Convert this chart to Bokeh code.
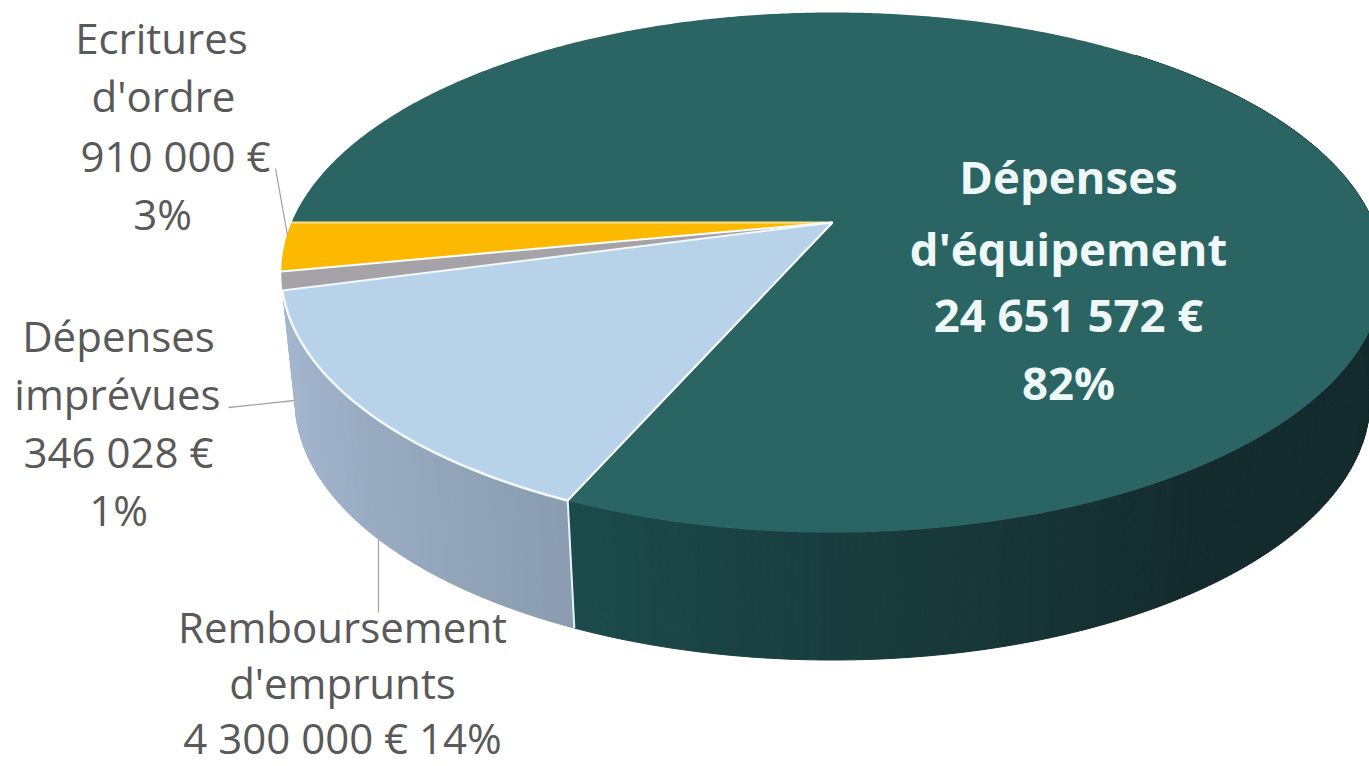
import numpy as np
from bokeh.plotting import figure
from bokeh.models import Range1d, ColumnDataSource
from bokeh.core.properties import value
from bokeh.embed import file_html
from bokeh.resources import INLINE

# ---- data (order: counter-clockwise on screen, from 9 o'clock)
categories = ["Ecritures d'ordre", "Dépenses imprévues", "Remboursement d'emprunts", "Dépenses d'équipement"]
amounts = [910000, 346028, 4300000, 24651572]
label_lines = [
    ["Ecritures", "d'ordre", "910 000 €", "3%"],
    ["Dépenses", "imprévues", "346 028 €", "1%"],
    ["Remboursement", "d'emprunts", "4 300 000 € 14%"],
    ["Dépenses", "d'équipement", "24 651 572 €", "82%"],
]
top_colors = ["#fdb900", "#a5a3a8", "#b7d2e9", "#2a6463"]
edge_colors = ["#f7e58e", "#ffffff", "#f2f8fc", "#ffffff"]

# ---- layout of the perspective projection (screen pixels)
CX, CY, RX, RY, K = 832.0, 222.0, 541.0, 250.4, 0.1923
DEPTH, SHRINK = 127.5, 0.975


def top_rim(t):
    u, v = -np.cos(t), np.sin(t)
    w = 1 - K * v
    return CX + RX * u / w, CY + RY * v / w


def bottom_rim(t):
    x, y = top_rim(t)
    return CX + (x - CX) * SHRINK, y + DEPTH


fractions = np.array(amounts, dtype=float) / sum(amounts)
edges = np.concatenate([[0.0], np.cumsum(fractions)]) * 2 * np.pi

p = figure(width=1369, height=766, output_backend="svg", toolbar_location=None,
           x_range=Range1d(0, 1369), y_range=Range1d(766, 0),
           min_border=0, outline_line_color=None, background_fill_color="white")
p.axis.visible = False
p.grid.visible = False


def hex2rgb(h):
    return np.array([int(h[i:i + 2], 16) for i in (1, 3, 5)], dtype=float)


def shade(t, stops_t, stops_c):
    rgb = [np.interp(t, stops_t, [hex2rgb(c)[i] for c in stops_c]) for i in range(3)]
    return "#%02x%02x%02x" % tuple(int(round(c)) for c in rgb)


def wall(t0, t1, stops_t, stops_c):
    ts = np.arange(t0, t1 + 0.005, 0.012)
    if ts[-1] < t1:
        ts = np.append(ts, t1)
    xs, ys, cs = [], [], []
    for a, b in zip(ts[:-1], ts[1:]):
        ax, ay = top_rim(a)
        bx, by = top_rim(b)
        cx, cy = bottom_rim(b)
        dx, dy = bottom_rim(a)
        xs.append([ax, bx, cx, dx])
        ys.append([ay, by, cy, dy])
        cs.append(shade((a + b) / 2, stops_t, stops_c))
    p.patches(xs, ys, fill_color=cs, line_color=cs, line_width=1)


# side walls
d = np.deg2rad
wall(edges[3], d(230), [edges[3], d(90), d(125), d(230)],
     ["#1c4b4b", "#193d3e", "#142b2d", "#142a2c"])
wall(edges[2], edges[3], [edges[2], d(35), edges[3]],
     ["#a5b8cf", "#9bafc6", "#8b9db0"])

# separator on the wall between blue and teal
sx0, sy0 = top_rim(edges[3])
sx1, sy1 = bottom_rim(edges[3])
p.line([sx0, sx1], [sy0, sy1], line_color="#e8f2f5", line_width=2)

# top faces
for i in [3, 2, 1, 0]:
    ts = np.linspace(edges[i], edges[i + 1], max(int((edges[i + 1] - edges[i]) * 120), 8))
    x, y = top_rim(ts)
    p.patch(np.r_[CX, x], np.r_[CY, y], fill_color=top_colors[i], line_color=None)

# white rim of the blue slice, and slice separators
ts = np.linspace(edges[2], edges[3], 100)
x, y = top_rim(ts)
p.line(x, y, line_color="#f2f8fc", line_width=2.5)
for i, t in enumerate(edges[:4]):
    ex, ey = top_rim(t)
    p.line([CX, ex], [CY, ey], line_color=edge_colors[i], line_width=2)

# leader lines
leaders_x = [[275, 287], [228, 294], [378, 378]]
leaders_y = [[168, 235], [407, 400], [530, 612]]
p.multi_line(leaders_x, leaders_y, line_color="#a6a6a6", line_width=1.3)

# labels
label_line_x = [[161, 163, 175, 162], [118, 117, 118, 118], [342, 342, 342], [1068, 1068, 1068, 1068]]
label_line_y = [[37, 95, 155, 213], [335, 393, 451, 509], [626, 682, 737], [175, 247, 313, 381]]


def put(i, color, size, style):
    src = ColumnDataSource(dict(x=label_line_x[i], y=label_line_y[i], t=label_lines[i]))
    p.text("x", "y", text="t", source=src, text_align="center", text_baseline="middle",
           text_color=color, text_font=value("Open Sans"), text_font_size=size,
           text_font_style=style)


put(0, "#595959", "42px", "normal")
put(1, "#595959", "42px", "normal")
put(2, "#595959", "42px", "normal")
put(3, "#eef8f8", "45.5px", "bold")

open("out.html", "w").write(file_html(p, INLINE))
